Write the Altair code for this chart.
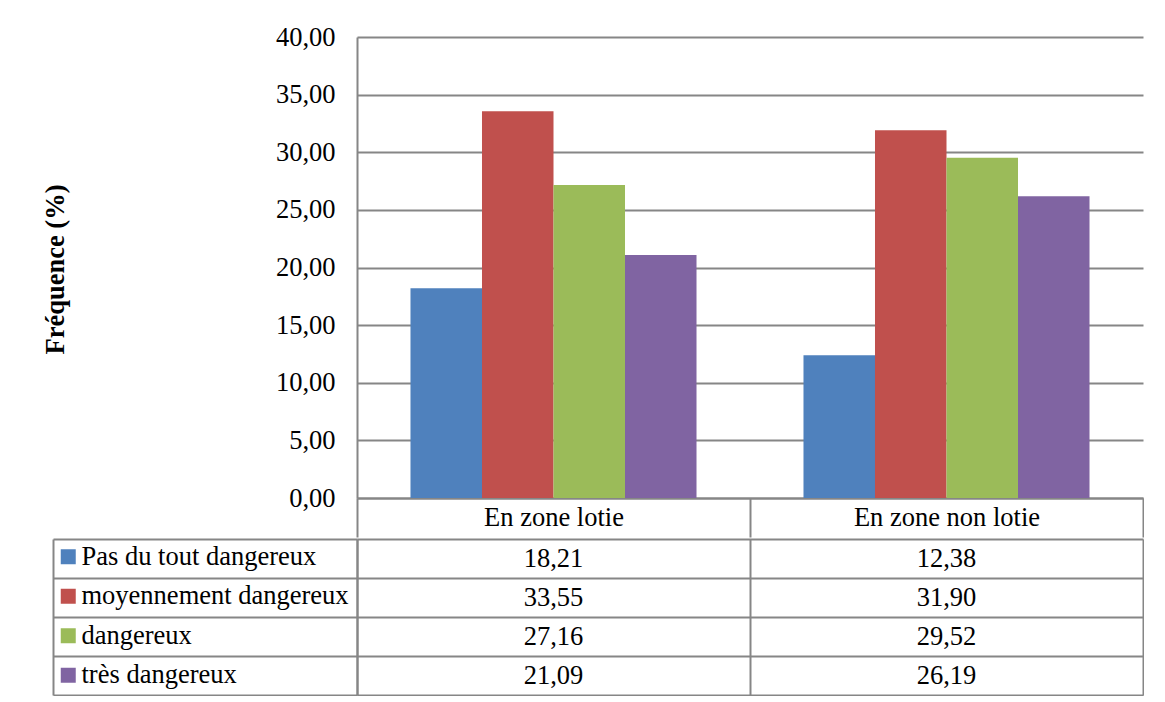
import altair as alt
import pandas as pd

categories = ["En zone lotie", "En zone non lotie"]
series = ["Pas du tout dangereux", "moyennement dangereux", "dangereux", "très dangereux"]
lotie = [18.21, 33.55, 27.16, 21.09]
non_lotie = [12.38, 31.90, 29.52, 26.19]
colors = ["#4F81BD", "#C0504D", "#9BBB59", "#8064A2"]
y_ticks = [0, 5, 10, 15, 20, 25, 30, 35, 40]

rows = []
for cat, vals in zip(categories, [lotie, non_lotie]):
    for s, v in zip(series, vals):
        rows.append({"category": cat, "series": s, "value": v,
                     "label": f"{v:.2f}".replace(".", ",")})
df = pd.DataFrame(rows)

FONT = "Liberation Serif"
FS = 26.5
GRAY = "#868686"
LW = 2

PAD_L, PAD_T = 34, 16

top = alt.Chart(df).mark_bar().encode(
    x=alt.X("category:N", sort=categories,
            scale=alt.Scale(paddingInner=0, paddingOuter=0),
            axis=alt.Axis(title=None, orient="bottom", tickBand="extent", tickSize=39,
                          tickColor=GRAY, tickWidth=LW, labelPadding=-19.5,
                          labelBaseline="middle", labelAngle=0, labelLimit=400,
                          domainColor=GRAY, domainWidth=LW, grid=False)),
    xOffset=alt.XOffset("series:N", sort=series,
                        scale=alt.Scale(paddingInner=0, paddingOuter=0.748)),
    y=alt.Y("value:Q", scale=alt.Scale(domain=[0, 40], nice=False),
            axis=alt.Axis(values=y_ticks,
                          labelExpr="replace(format(datum.value, '.2f'), '.', ',')",
                          ticks=False, labelPadding=22, domainColor=GRAY, domainWidth=LW,
                          gridColor=GRAY, gridWidth=LW, title="Fréquence (%)",
                          titleFontWeight="bold", titleX=-302, titleY=232,
                          titleBaseline="middle", titleAngle=270)),
    color=alt.Color("series:N", sort=series,
                    scale=alt.Scale(domain=series, range=colors),
                    legend=alt.Legend(orient="none", legendX=-302, legendY=506.5,
                                      title=None, symbolType="square", symbolSize=225,
                                      symbolStrokeWidth=0, labelFont=FONT, labelFontSize=FS,
                                      labelColor="black", rowPadding=12.5, labelOffset=0,
                                      padding=0, labelLimit=400, symbolOpacity=1)),
).properties(width=786, height=461)

base = alt.Chart(df).encode(
    x=alt.X("category:N", sort=categories,
            scale=alt.Scale(paddingInner=0, paddingOuter=0),
            axis=alt.Axis(title=None, labels=False, ticks=False, domain=False, grid=True,
                          tickBand="extent", gridColor=GRAY, gridWidth=LW)),
    text=alt.Text("label:N"),
)

cells = base.mark_text(font=FONT, fontSize=FS, color="black", baseline="middle").encode(
    y=alt.Y("series:N", sort=series, scale=alt.Scale(paddingInner=0, paddingOuter=0),
            axis=alt.Axis(title=None, labels=False, ticks=True, tickSize=304,
                          tickBand="extent", tickColor=GRAY, tickWidth=LW, grid=True,
                          gridColor=GRAY, gridWidth=LW, domain=True, domainColor=GRAY,
                          domainWidth=LW)),
)

edge = base.mark_text(opacity=0).encode(
    y=alt.Y("series:N", sort=series,
            axis=alt.Axis(title=None, orient="left", offset=304, labels=False, ticks=False,
                          grid=False, domain=True, domainColor=GRAY, domainWidth=LW)),
)

bottom = alt.layer(cells, edge).resolve_axis(y="independent").properties(width=786, height=156)

chart = alt.vconcat(top, bottom, spacing=0).properties(
    padding={"left": PAD_L, "top": PAD_T, "right": 0, "bottom": 0}
).configure_view(stroke=None).configure_axis(
    labelFont=FONT, labelFontSize=FS, labelColor="black",
    titleFont=FONT, titleFontSize=FS, titleColor="black",
).configure_text(font=FONT)

chart.save("out.html", embed_options={"renderer": "svg", "actions": False})
